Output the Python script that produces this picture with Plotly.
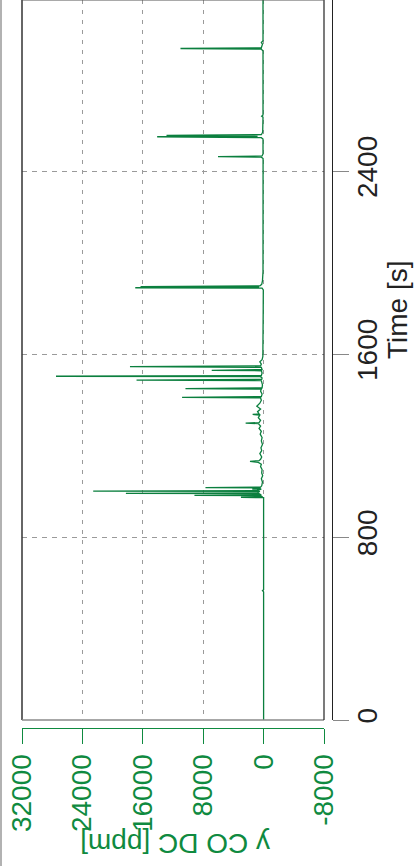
import plotly.graph_objects as go

# ---------------- data ----------------
time_s = [0, 560, 566, 570, 972,
          974, 976, 981, 982, 984, 990, 991, 993, 1000, 1001, 1003, 1009, 1010, 1012, 1015, 1016, 1018, 1024,
          1040, 1055, 1068, 1080, 1095, 1108, 1118, 1126, 1131, 1134, 1140, 1150, 1165, 1178, 1190, 1205,
          1220, 1235, 1250, 1262, 1275, 1285, 1296, 1298, 1300, 1310, 1322, 1333, 1336, 1338, 1348, 1360,
          1372, 1385, 1398, 1408, 1411, 1414, 1425, 1438, 1447, 1449, 1452, 1465, 1476, 1484, 1486, 1489,
          1495, 1501, 1503, 1506, 1517, 1527, 1529, 1532, 1542, 1545, 1548, 1556, 1566, 1575, 1590, 1620,
          1700, 1800, 1880, 1888, 1890, 1892, 1895, 1898, 1905, 1920, 1960, 2100, 2300, 2455,
          2461, 2463, 2466, 2475, 2540, 2546, 2550, 2552, 2556, 2559, 2570, 2636, 2640, 2645,
          2925, 2933, 2936, 2939, 2955, 2962, 2970, 3200]
co_ppm = [0, 0, 150, 0, 0,
          3000, 150, 400, 9160, 300, 600, 18240, 800, 500, 22570, 900, 300, 1500, 400, 600, 7700, 400, 250,
          150, 300, 120, 250, 200, 400, 300, 700, 1800, 600, 400, 250, 500, 250, 350, 150,
          300, 200, 450, 300, 600, 400, 700, 2380, 600, 400, 700, 500, 1450, 600, 800, 400,
          900, 500, 300, 400, 10800, 300, 200, 400, 300, 10350, 200, 150, 250, 300, 16830, 250,
          200, 400, 27500, 300, 200, 300, 6870, 200, 300, 17700, 400, 300, 500, 200, 100, 80,
          60, 50, 40, 200, 17000, 600, 16300, 500, 250, 150, 80, 60, 60, 70,
          300, 6040, 200, 80, 80, 300, 14100, 800, 12860, 300, 120, 80, 250, 80,
          80, 300, 11010, 300, 150, 300, 80, 80]

co_ticks = [32000, 24000, 16000, 8000, 0, -8000]
co_ticktext = ["32000", "24000", "16000", "8000", "0", "-8000"]
time_ticks = [0, 800, 1600, 2400]
time_ticktext = ["0", "800", "1600", "2400"]

co_title = "y CO DC [ppm]"
time_title = "Time [s]"

# ---------------- styling ----------------
GREEN = "#0f8a40"
LINE_GREEN = "#0b7f3e"
FONT = "Liberation Sans, Arial, sans-serif"
W, H = 415, 866
ML, MR, MT, MB = 22, 83, 0, 138
PW, PH = W - ML - MR, H - MT - MB


def px_x(px):
    return (px - ML) / PW


def px_y(py):
    return (H - MB - py) / PH


fig = go.Figure()
fig.add_trace(go.Scatter(x=co_ppm, y=time_s, mode="lines",
                         line=dict(color=LINE_GREEN, width=1.3),
                         hoverinfo="skip", showlegend=False))

x_dom_end = px_x(324)
y_dom_start = px_y(720)

fig.update_layout(
    width=W, height=H,
    margin=dict(l=ML, r=MR, t=MT, b=MB, pad=0),
    paper_bgcolor="white", plot_bgcolor="white",
    font=dict(family=FONT),
    xaxis=dict(
        domain=[0, x_dom_end], range=[32000, -8000], anchor="free", position=0,
        showline=True, linecolor=GREEN, linewidth=1,
        ticks="outside", ticklen=15, tickcolor=GREEN, tickwidth=1,
        tickmode="array", tickvals=co_ticks, ticktext=co_ticktext,
        tickangle=-90, tickfont=dict(size=28, color=GREEN, family=FONT),
        ticklabelstandoff=-1,
        showgrid=True, gridcolor="#9a9a9a", gridwidth=1, griddash="4px,6px",
        zeroline=False, automargin=False,
    ),
    yaxis=dict(
        domain=[y_dom_start, 1], range=[0, 3148], anchor="free", position=1,
        side="right",
        showline=True, linecolor="#222222", linewidth=1,
        ticks="outside", ticklen=16, tickcolor="#888888", tickwidth=1,
        tickmode="array", tickvals=time_ticks, ticktext=time_ticktext,
        tickangle=-90, tickfont=dict(size=28, color="#222222", family=FONT),
        ticklabelstandoff=-6,
        showgrid=True, gridcolor="#9a9a9a", gridwidth=1, griddash="5px,5px",
        zeroline=False, automargin=False,
    ),
    shapes=[
        # plot box
        dict(type="line", xref="paper", yref="paper", x0=0, x1=0, y0=y_dom_start, y1=1,
             line=dict(color="#333333", width=1.5)),
        dict(type="line", xref="paper", yref="paper", x0=0, x1=x_dom_end, y0=y_dom_start, y1=y_dom_start,
             line=dict(color="#8a8a8a", width=1.5)),
        dict(type="line", xref="paper", yref="paper", x0=x_dom_end, x1=x_dom_end, y0=y_dom_start, y1=1,
             line=dict(color="#222222", width=1.2)),
        dict(type="line", xref="paper", yref="paper", x0=0, x1=x_dom_end, y0=1, y1=1,
             line=dict(color="#555555", width=1)),
        # outer frame line on the far left
        dict(type="line", xref="paper", yref="paper", x0=px_x(1), x1=px_x(1), y0=px_y(H), y1=1,
             line=dict(color="#999999", width=1.5)),
    ],
    annotations=[
        dict(text=time_title, xref="paper", yref="paper", x=px_x(397), y=px_y(310),
             xanchor="center", yanchor="middle", showarrow=False, textangle=-90,
             font=dict(size=28, color="#222222", family=FONT)),
        dict(text=co_title, xref="paper", yref="paper", x=px_x(175), y=px_y(843),
             xanchor="center", yanchor="middle", showarrow=False, textangle=180,
             font=dict(size=28, color=GREEN, family=FONT)),
    ],
)

fig.write_html("out.html", config={"displayModeBar": False, "staticPlot": True},
               post_script="document.body.style.margin='0';document.body.style.overflow='hidden';")
